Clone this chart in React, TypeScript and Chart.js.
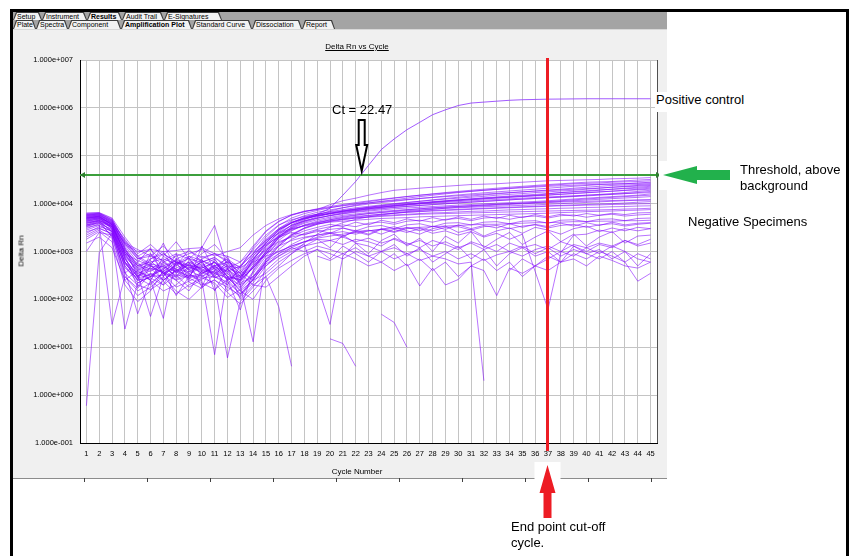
import React, { useEffect, useRef } from 'react';
import { Chart, registerables } from 'chart.js';

Chart.register(...registerables);

const FONT = '"Liberation Sans", Arial, Helvetica, sans-serif';

// ---------- data ----------
const cycles = [
  1, 2, 3, 4, 5, 6, 7, 8, 9, 10, 11, 12, 13, 14, 15, 16, 17, 18, 19, 20, 21, 22, 23,
  24, 25, 26, 27, 28, 29, 30, 31, 32, 33, 34, 35, 36, 37, 38, 39, 40, 41, 42, 43, 44, 45,
];
const yTickValues = [0.1, 1, 10, 100, 1000, 1e4, 1e5, 1e6, 1e7];
const yTickLabels = [
  '1.000e-001', '1.000e+000', '1.000e+001', '1.000e+002', '1.000e+003',
  '1.000e+004', '1.000e+005', '1.000e+006', '1.000e+007',
];
const thresholdValue = 4.0e4;
const ctValue = 22.47;
const cutoffCycle = 37;

const positiveControl = [
  5000, 5300, 3700, 900, 420, 550, 480, 380, 520,
  450, 600, 300, 260, 650, 1500, 2800, 4000, 5000,
  6000, 8000, 1.5e4, 2.9e4, 6.3e4, 1.35e5, 2.24e5, 3.5e5, 5.0e5,
  7.2e5, 9.1e5, 1.12e6, 1.26e6, 1.32e6, 1.38e6, 1.44e6, 1.48e6, 1.5e6,
  1.52e6, 1.53e6, 1.54e6, 1.55e6, 1.55e6, 1.55e6, 1.55e6, 1.55e6, 1.55e6,
];

const negU01 = [
  6200, 6400, 4800, 1500, 700, 800, 650, 900, 700,
  600, 750, 500, 450, 1200, 2600, 4200, 5800, 7000,
  7500, 9500, 1.15e4, 1.3e4, 1.5e4, 1.7e4, 1.9e4, 2.0e4, 2.1e4,
  2.2e4, 2.3e4, 2.4e4, 2.5e4, 2.55e4, 2.6e4, 2.7e4, 2.8e4, 2.9e4,
  3.0e4, 3.05e4, 3.1e4, 3.15e4, 3.2e4, 3.3e4, 3.35e4, 3.4e4, 3.5e4,
];
const negU02 = [
  5800, 6000, 4200, 1100, 500, 600, 700, 550, 800,
  650, 500, 600, 350, 900, 2000, 3500, 5000, 6200,
  7200, 8200, 9200, 1.0e4, 1.1e4, 1.2e4, 1.3e4, 1.4e4, 1.5e4,
  1.6e4, 1.7e4, 1.8e4, 1.9e4, 2.0e4, 2.1e4, 2.2e4, 2.3e4, 2.4e4,
  2.5e4, 2.6e4, 2.7e4, 2.8e4, 2.85e4, 2.9e4, 3.0e4, 3.1e4, 3.2e4,
];
const negU03 = [
  5000, 5500, 3800, 900, 350, 450, 380, 600, 420,
  500, 700, 300, 250, 700, 1600, 3000, 4400, 5600,
  6600, 7400, 8200, 9000, 9800, 1.05e4, 1.12e4, 1.2e4, 1.28e4,
  1.36e4, 1.44e4, 1.52e4, 1.6e4, 1.68e4, 1.76e4, 1.84e4, 1.92e4, 2.0e4,
  2.1e4, 2.2e4, 2.3e4, 2.4e4, 2.5e4, 2.55e4, 2.6e4, 2.7e4, 2.8e4,
];
const negU04 = [
  4500, 5000, 3200, 700, 300, 400, 500, 300, 650,
  400, 350, 450, 200, 500, 1300, 2600, 4000, 5200,
  6000, 6800, 7500, 8200, 8800, 9400, 1.0e4, 1.06e4, 1.12e4,
  1.18e4, 1.24e4, 1.3e4, 1.36e4, 1.42e4, 1.5e4, 1.56e4, 1.62e4, 1.7e4,
  1.76e4, 1.84e4, 1.9e4, 2.0e4, 2.1e4, 2.2e4, 2.3e4, 2.4e4, 2.5e4,
];
const negU05 = [
  6000, 6300, 4500, 1300, 600, 300, 420, 700, 500,
  800, 600, 380, 500, 1100, 2200, 3600, 4600, 5400,
  6000, 6600, 7200, 7800, 8400, 9000, 9500, 1.0e4, 1.05e4,
  1.1e4, 1.15e4, 1.2e4, 1.25e4, 1.3e4, 1.35e4, 1.4e4, 1.45e4, 1.5e4,
  1.6e4, 1.7e4, 1.75e4, 1.8e4, 1.9e4, 2.0e4, 2.05e4, 2.1e4, 2.2e4,
];
const negU06 = [
  3800, 4600, 3000, 600, 250, 350, 250, 400, 300,
  350, 450, 250, 60, 400, 1000, 2200, 3600, 4800,
  5600, 6300, 7000, 7600, 8200, 8700, 9200, 9700, 1.02e4,
  1.07e4, 1.12e4, 1.17e4, 1.22e4, 1.27e4, 1.32e4, 1.37e4, 1.42e4, 1.47e4,
  1.52e4, 1.58e4, 1.64e4, 1.7e4, 1.76e4, 1.82e4, 1.88e4, 1.94e4, 2.0e4,
];
const negU07 = [
  5500, 5700, 4000, 1800, 800, 550, 900, 600, 450,
  700, 900, 650, 400, 800, 1500, 2800, 3900, 4800,
  5500, 6100, 6600, 7100, 7600, 8000, 8400, 8800, 9200,
  9600, 1.0e4, 1.04e4, 1.08e4, 1.12e4, 1.16e4, 1.2e4, 1.24e4, 1.28e4,
  1.32e4, 1.36e4, 1.4e4, 1.45e4, 1.5e4, 1.56e4, 1.62e4, 1.7e4, 1.8e4,
];
const negU08 = [
  4800, 5300, 3500, 1000, 450, 650, 350, 500, 750,
  300, 400, 550, 300, 600, 1200, 2400, 3500, 4400,
  5000, 5600, 6100, 6600, 7000, 7400, 7800, 8100, 8400,
  8700, 9000, 9300, 9600, 9900, 1.02e4, 1.05e4, 1.08e4, 1.11e4,
  1.15e4, 1.2e4, 1.25e4, 1.3e4, 1.35e4, 1.4e4, 1.45e4, 1.5e4, 1.6e4,
];
const negU09 = [
  5200, 5400, 3600, 1200, 500, 380, 600, 420, 380,
  550, 320, 420, 250, 450, 900, 1900, 3000, 3900,
  4600, 5200, 5700, 6100, 6500, 6900, 7200, 7500, 7800,
  8100, 8400, 8700, 9000, 9300, 9600, 9900, 1.02e4, 1.05e4,
  1.08e4, 1.11e4, 1.15e4, 1.19e4, 1.23e4, 1.27e4, 1.31e4, 1.35e4, 1.4e4,
];
const negU10 = [
  4200, 4800, 3400, 800, 400, 500, 450, 650, 350,
  450, 600, 350, 180, 350, 800, 1700, 2700, 3600,
  4300, 4900, 5400, 5800, 6200, 6500, 6800, 7100, 7400,
  7700, 8000, 8200, 8400, 8600, 8800, 9000, 9200, 9400,
  9700, 1.0e4, 1.03e4, 1.06e4, 1.09e4, 1.12e4, 1.15e4, 1.18e4, 1.2e4,
];
const negU11 = [
  3300, 4100, 3300, 750, 280, 330, 420, 260, 380,
  480, 350, 280, 170, 380, 900, 2000, 3300, 4600,
  5800, 7000, 8200, 9300, 1.03e4, 1.12e4, 1.2e4, 1.3e4, 1.4e4,
  1.5e4, 1.6e4, 1.7e4, 1.8e4, 1.9e4, 2.0e4, 2.1e4, 2.2e4, 2.3e4,
  2.4e4, 2.5e4, 2.6e4, 2.65e4, 2.7e4, 2.8e4, 2.85e4, 2.9e4, 3.0e4,
];
const negU12 = [
  5700, 6100, 4400, 1600, 750, 500, 350, 450, 600,
  420, 380, 500, 280, 550, 1100, 2100, 3200, 4300,
  5300, 6200, 7000, 7700, 8400, 9100, 9800, 1.05e4, 1.12e4,
  1.2e4, 1.28e4, 1.36e4, 1.44e4, 1.52e4, 1.6e4, 1.68e4, 1.76e4, 1.84e4,
  1.92e4, 2.0e4, 2.1e4, 2.2e4, 2.3e4, 2.4e4, 2.45e4, 2.5e4, 2.6e4,
];
const negU13 = [
  4600, 5100, 3900, 1100, 550, 420, 650, 380, 280,
  330, 480, 380, 230, 480, 1000, 2000, 3100, 4100,
  4900, 5700, 6400, 7100, 7800, 8400, 9000, 9600, 1.02e4,
  1.08e4, 1.14e4, 1.2e4, 1.26e4, 1.32e4, 1.38e4, 1.44e4, 1.5e4, 1.56e4,
  1.62e4, 1.7e4, 1.78e4, 1.86e4, 1.94e4, 2.0e4, 2.1e4, 2.2e4, 2.3e4,
];
const negU14 = [
  5300, 5600, 4100, 1400, 700, 900, 500, 650, 420,
  600, 750, 450, 350, 700, 1400, 2500, 3500, 4300,
  5000, 5600, 6200, 6800, 7300, 7800, 8300, 8700, 9100,
  9500, 9900, 1.03e4, 1.07e4, 1.11e4, 1.15e4, 1.2e4, 1.24e4, 1.28e4,
  1.33e4, 1.38e4, 1.43e4, 1.5e4, 1.56e4, 1.62e4, 1.7e4, 1.8e4, 1.9e4,
];
const negU15 = [
  4900, 5200, 3300, 850, 380, 300, 320, 550, 330,
  280, 300, 230, 130, 260, 600, 1300, 2200, 3100,
  3900, 4600, 5200, 5700, 6200, 6600, 7000, 7400, 7800,
  8200, 8500, 8800, 9100, 9400, 9700, 1.0e4, 1.03e4, 1.06e4,
  1.1e4, 1.15e4, 1.2e4, 1.25e4, 1.3e4, 1.35e4, 1.4e4, 1.45e4, 1.5e4,
];
const negU16 = [
  6400, 6500, 5000, 2000, 900, 1400, 800, 1600, 700,
  1200, 900, 600, 480, 900, 1800, 3000, 4100, 5000,
  5700, 6300, 6900, 7500, 8000, 8500, 9000, 9500, 1.0e4,
  1.05e4, 1.1e4, 1.15e4, 1.2e4, 1.25e4, 1.3e4, 1.35e4, 1.4e4, 1.45e4,
  1.5e4, 1.56e4, 1.62e4, 1.68e4, 1.75e4, 1.82e4, 1.9e4, 2.0e4, 2.1e4,
];
const negU17 = [
  5900, 6200, 4600, 1700, 800, 1100, 600, 800, 1000,
  750, 900, 800, 600, 1300, 2700, 4300, 5700, 6800,
  7800, 8700, 9600, 1.05e4, 1.14e4, 1.23e4, 1.32e4, 1.41e4, 1.5e4,
  1.58e4, 1.66e4, 1.74e4, 1.82e4, 1.9e4, 1.98e4, 2.06e4, 2.14e4, 2.22e4,
  2.3e4, 2.36e4, 2.42e4, 2.48e4, 2.54e4, 2.58e4, 2.62e4, 2.66e4, 2.7e4,
];
const negU18 = [
  4300, 4900, 3700, 1500, 1100, 800, 1300, 700, 900,
  1100, 800, 1000, 1200, 2200, 3500, 4800, 5900, 6800,
  7600, 8300, 9000, 9700, 1.04e4, 1.1e4, 1.16e4, 1.22e4, 1.28e4,
  1.34e4, 1.4e4, 1.46e4, 1.52e4, 1.58e4, 1.64e4, 1.7e4, 1.76e4, 1.82e4,
  1.88e4, 1.94e4, 2.0e4, 2.06e4, 2.12e4, 2.2e4, 2.26e4, 2.32e4, 2.4e4,
];
const negU19 = [
  3600, 4400, 3500, 900, 650, 500, 350, 300, 480,
  380, 280, 420, 280, 800, 1700, 2900, 4000, 4900,
  5600, 6200, 6800, 7300, 7800, 8300, 8800, 9300, 9800,
  1.02e4, 1.06e4, 1.1e4, 1.14e4, 1.18e4, 1.22e4, 1.26e4, 1.3e4, 1.34e4,
  1.38e4, 1.42e4, 1.46e4, 1.5e4, 1.54e4, 1.58e4, 1.62e4, 1.66e4, 1.7e4,
];
const negM01 = [
  3500, 4200, 2600, 500, 220, 300, 550, 280, 450,
  600, 280, 350, 220, 300, 700, 1400, 2300, 3100,
  3700, 4200, 4600, 5000, 5300, 5600, 5800, 6000, 6200,
  6400, 6500, 6700, 6900, 7000, 7200, 7400, 7500, 7700,
  7800, 8000, 8100, 8300, 8400, 8600, 8700, 8900, 9000,
];
const negM02 = [
  5600, 5900, 3900, 1400, 1000, 1100, 1000, 1050, 1150,
  1200, 3500, 450, 600, 1000, 1700, 2400, 3000, 3400,
  3800, 4100, 4300, 4500, 4700, 4900, 5000, 5100, 5300,
  5400, 5500, 5600, 5700, 5800, 5900, 6000, 6100, 6200,
  6300, 6500, 6600, 6800, 6900, 7000, 7200, 7300, 7500,
];
const negM03 = [
  3000, 3800, 2900, 450, 280, 200, 380, 250, 320,
  250, 7, 300, 150, 250, 600, 1100, 1800, 2400,
  2900, 3300, 3600, 3300, 3900, 4100, 3700, 4300, 4500,
  4100, 4700, 4900, 4400, 5000, 5200, 4700, 5300, 5500,
  5000, 5600, 5800, 5200, 5700, 6000, 5500, 5800, 6000,
];
const negM04 = [
  4400, 4700, 3100, 700, 330, 44, 300, 550, 700,
  380, 520, 260, 320, 650, 1100, 1600, 2000, 2300,
  2600, 2900, 3100, 2700, 3300, 3500, 3000, 3600, 3800,
  3300, 3900, 4000, 3600, 4100, 4200, 3800, 4300, 4400,
  3900, 4500, 4600, 4200, 4700, 4800, 4400, 4900, 5000,
];
const negM05 = [
  4000, 4400, 3300, 1000, 500, 700, 900, 600, 500,
  350, 500, 700, 450, 700, 1300, 2100, 2900, 3500,
  4000, 4400, 4700, 5000, 5200, 5400, 5600, 5800, 6000,
  6100, 6200, 6300, 6400, 6500, 6600, 6700, 6800, 6900,
  7000, 7100, 7200, 7300, 7400, 7500, 7700, 7800, 8000,
];
const negM06 = [
  2800, 3500, 2600, 600, 250, 280, 200, 330, 280,
  200, 250, 180, 120, 280, 650, 1300, 2200, 3000,
  3700, 4300, 4800, 5200, 5600, 6000, 6300, 6600, 6900,
  7200, 7400, 7600, 7800, 8000, 8200, 8400, 8600, 8800,
  9000, 9200, 9400, 9600, 9800, 1.0e4, 1.03e4, 1.07e4, 1.1e4,
];
const negM07 = [
  5100, 5500, 3600, 1000, 450, 250, 600, 350, 800,
  500, 300, 650, 350, 200, 300, 500, 900, 1500,
  2300, 3200, 4000, 4700, 5300, 5800, 6300, 6800, 7200,
  7600, 8000, 8400, 8700, 9000, 9300, 9600, 9900, 1.02e4,
  1.05e4, 1.08e4, 1.1e4, 1.12e4, 1.14e4, 1.16e4, 1.18e4, 1.19e4, 1.2e4,
];
const negM08 = [
  4700, 5000, 3000, 600, 300, 550, 250, 420, 300,
  650, 450, 150, 250, 450, 1000, 1900, 2800, 3500,
  4100, 4600, 5000, 5400, 5700, 6000, 6300, 6600, 6800,
  7000, 7200, 7400, 7600, 7800, 8000, 8200, 8400, 8600,
  8800, 9000, 9100, 9300, 9400, 9600, 9700, 9900, 1.0e4,
];
const negM09 = [
  5400, 5800, 4300, 1200, 300, 700, 1000, 350, 550,
  900, 1400, 700, 300, 450, 900, 1500, 2100, 2700,
  3200, 3700, 3300, 4100, 3600, 4500, 4000, 4800, 4300,
  5100, 4500, 5300, 4700, 5500, 4900, 5700, 5100, 5900,
  5300, 6000, 5500, 6200, 5700, 6300, 5900, 6400, 6500,
];
const negM10 = [
  3400, 3900, 2100, 300, 170, 350, 200, 600, 230,
  170, 350, 500, 300, 600, 800, 1000, 1300, 1600,
  1900, 2100, 2300, 2500, 2700, 2900, 3000, 3100, 3200,
  3300, 3400, 3500, 3600, 3700, 3700, 3800, 3900, 4000,
  4000, 4100, 4200, 4200, 4300, 4300, 4400, 4400, 4500,
];
const negL01 = [
  1000, 2500, 2200, 400, 50, 250, 150, 200, 350,
  220, 160, 260, 130, 220, 500, 900, 1400, 1900,
  2200, 2500, 2100, 2600, 2800, 2300, 2900, 2500, 3000,
  2400, 2700, 2200, 2600, 2000, 2400, 1800, 2300, 380,
  62, 950, 2200, 2300, 2800, 2500, 3000, 2700, 3000,
];
const negL02 = [
  3200, 3600, 30, 300, 150, 220, 350, 180, 240,
  320, 200, 6, 90, 180, 400, 700, 1000, 1300,
  1500, 1700, 1400, 1800, 1600, 1300, 1900, 1500, 1200,
  1700, 1400, 1100, 1600, 1300, 1000, 1500, 1200, 1400,
  1100, 1600, 1300, 1000, 1400, 1200, 1700, 1300, 1500,
];
const negL03 = [
  0.6, 950, 2400, 350, 200, 160, 240, 130, 200,
  280, 220, 110, 160, 300, 600, 900, 1200, 1000,
  1300, 1100, 900, 1200, 800, 1000, 700, 900, 650,
  800, 700, 550, 600, 2, null, 400, 700, 500,
  800, 600, 900, 700, 1000, 800, 600, 900, 700,
];
const negL04 = [
  2600, 3100, 2300, 550, 300, 450, 250, 400, 550,
  350, 500, 280, 200, 13, 700, 1000, 1300, 1600,
  1800, 1700, 2000, 1600, 1900, 1500, 1800, 1400, 1700,
  1300, 1600, 1200, 1500, 1100, 1400, 1000, 1300, 900,
  1200, 800, 1100, 900, 700, 1000, 600, 240, 350,
];
const negL05 = [
  1500, 2000, 1200, 250, 120, 180, 300, 150, 100,
  180, 260, 140, 80, 150, 300, 70, 4, null,
  800, 650, 900, 700, 500, 600, 400, 550, 190,
  450, 200, 260, 500, 400, 120, 450, 350, 500,
  400, 600, 700, 500, 800, 650, 500, 450, 600,
];
const negL06 = [
  2000, 2800, 1900, 24, 220, 300, 450, 320, 180,
  260, 380, 200, 110, 260, 550, 800, 1100, 1400,
  200, 30, 800, 1500, 1300, 1000, 1200, 900, 1100,
  800, 1000, 700, 900, 650, 850, 1000, 800, 1100,
  1300, 1000, 1400, 1200, 1500, 1300, 1700, 1400, 1800,
];
const negL07 = [
  3600, 4000, 2800, 600, 350, 250, 40, 700, 400,
  300, 450, 600, 250, 500, 900, 1300, 1700, 2000,
  2200, 2400, 2600, 2300, 2700, 2900, 2500, 3000, 3100,
  2700, 3200, 3300, 2800, 3300, 3500, 3000, 3400, 3600,
  3100, 3500, 3700, 3200, 3600, 3800, 3400, 3700, 3900,
];
const negL08 = [
  4100, 4500, 2500, 350, 600, 1200, 300, 900, 250,
  1300, 400, 800, 200, 300, 500, 800, 1200, 1600,
  2000, 2400, 2000, 2800, 2300, 3000, 2600, 3200, 2700,
  3400, 2900, 3600, 3000, 3500, 3100, 3800, 3200, 3700,
  3300, 3900, 3400, 4000, 3500, 4100, 3600, 3900, 4000,
];
const negL09 = [
  2400, 3300, 2700, 800, 180, 500, 1500, 400, 600,
  180, 700, 250, 400, 250, 350, 600, 900, 1300,
  1800, 1200, 2200, 1500, 900, 1700, 2300, 1300, 1900,
  1000, 2100, 1500, 2600, 1200, 1800, 2500, 1400, 2000,
  2700, 1600, 2300, 1300, 2000, 2600, 1500, 2100, 2200,
];
const negL10 = [
  1800, 2600, 1600, 200, 90, 150, 400, 120, 300,
  700, 150, 450, 100, 200, 180, 300, 500, 800,
  1100, 700, 1300, 900, 600, 1000, 1400, 800, 1200,
  600, 900, 1300, 700, 1100, 500, 900, 1200, 800,
  1000, 600, 1300, 900, 1100, 700, 1000, 500, 900,
];
const negL11 = [
  3900, 4300, 2000, 250, 400, 250, 800, 500, 1100,
  600, 300, 200, 500, 900, 1400, 2000, 2500, 2200,
  2800, 2400, 3100, 2600, 2200, 2900, 3300, 2700, 2300,
  3000, 3400, 2500, 2900, 2100, 2700, 3100, 2400, 3200,
  2800, 2300, 3000, 3400, 2600, 3100, 2700, 3200, 3000,
];
const negL12 = [
  2200, 3000, 2400, 500, 250, 900, 350, 250, 150,
  400, 600, 300, 150, 100, 250, 450, 650, 900,
  1100, 900, 700, 1000, 800, 600, 900, 500, 700,
  400, 600, 300, 500, 700, 400, 600, 300, 500,
  700, 1000, 800, 1200, 900, 1300, 1000, 700, 600,
];
const gapA = [
  null, null, null, null, null, null, null, null, null,
  null, null, null, null, null, null, null, null, null,
  null, 15, 12, 4, null, null, null, null, null,
  null, null, null, null, null, null, null, null, null,
  null, null, null, null, null, null, null, null, null,
];
const gapB = [
  null, null, null, null, null, null, null, null, null,
  null, null, null, null, null, null, null, null, null,
  null, null, null, null, null, 49, 33, 10, null,
  null, null, null, null, null, null, null, null, null,
  null, null, null, null, null, null, null, null, null,
];

const negativeSpecimens = [
  negU01, negU02, negU03, negU04, negU05, negU06, negU07, negU08, negU09, negU10,
  negU11, negU12, negU13, negU14, negU15, negU16, negU17, negU18, negU19,
  negM01, negM02, negM03, negM04, negM05, negM06, negM07, negM08, negM09, negM10,
  negL01, negL02, negL03, negL04, negL05, negL06, negL07, negL08, negL09, negL10,
  negL11, negL12,
  gapA, gapB,
];

// ---------- screenshot chrome ----------
const row1Tabs = ['Setup', 'Instrument', 'Results', 'Audit Trail', 'E-Signatures'];
const row2Tabs = ['Plate', 'Spectra', 'Component', 'Amplification Plot', 'Standard Curve', 'Dissociation', 'Report'];
const row1Edges = [13, 42, 87, 122, 164, 222];
const row2Edges = [13, 36, 68, 121, 192, 252, 302, 335];
const activeTabs = ['Results', 'Amplification Plot'];
const bottomTicks = [84, 147, 210, 273, 336, 399, 462, 525, 588, 651];

const RED = '#ed1c24';
const GREEN_BIG = '#22b14c';
const GREEN_LINE = '#3c9f3c';

const decorPlugin = {
  id: 'decor',
  beforeDraw(chart: any) {
    const { ctx, chartArea: a } = chart;
    ctx.save();
    ctx.fillStyle = '#ffffff';
    ctx.fillRect(a.left, a.top, a.right - a.left, a.bottom - a.top);
    ctx.restore();
  },
  afterDatasetsDraw(chart: any) {
    const { ctx, chartArea: a, scales } = chart;
    ctx.save();
    ctx.strokeStyle = '#505050';
    ctx.lineWidth = 1;
    ctx.beginPath();
    ctx.moveTo(a.right + 0.5, a.top);
    ctx.lineTo(a.right + 0.5, a.bottom);
    ctx.stroke();

    const ty = Math.round(scales.y.getPixelForValue(thresholdValue));
    ctx.strokeStyle = GREEN_LINE;
    ctx.lineWidth = 2;
    ctx.beginPath();
    ctx.moveTo(a.left, ty);
    ctx.lineTo(a.right, ty);
    ctx.stroke();
    ctx.fillStyle = '#2f7f2f';
    ctx.beginPath();
    ctx.moveTo(a.left, ty);
    ctx.lineTo(a.left + 5, ty - 3);
    ctx.lineTo(a.left + 5, ty + 3);
    ctx.closePath();
    ctx.fill();
    ctx.beginPath();
    ctx.moveTo(a.right + 4, ty);
    ctx.lineTo(a.right - 1, ty - 3);
    ctx.lineTo(a.right - 1, ty + 3);
    ctx.closePath();
    ctx.fill();

    const cx = scales.x.getPixelForValue(cutoffCycle - 1);
    ctx.fillStyle = RED;
    ctx.fillRect(Math.round(cx) - 2, a.top - 2, 3, a.bottom - a.top + 10);
    ctx.restore();
  },
  afterDraw(chart: any) {
    const { ctx, chartArea: a, scales } = chart;
    const ty = Math.round(scales.y.getPixelForValue(thresholdValue));
    const cx = Math.round(scales.x.getPixelForValue(cutoffCycle - 1)) - 0.5;
    const kx = scales.x.getPixelForValue(ctValue - 1);
    ctx.save();

    ctx.fillStyle = '#ffffff';
    ctx.fillRect(a.right + 2, ty - 14, 12, 29);
    const gx = a.right + 6;
    ctx.fillStyle = GREEN_BIG;
    ctx.beginPath();
    ctx.moveTo(gx, ty);
    ctx.lineTo(gx + 34, ty - 9);
    ctx.lineTo(gx + 34, ty - 5);
    ctx.lineTo(gx + 67, ty - 5);
    ctx.lineTo(gx + 67, ty + 5);
    ctx.lineTo(gx + 34, ty + 5);
    ctx.lineTo(gx + 34, ty + 9);
    ctx.closePath();
    ctx.fill();

    ctx.fillStyle = '#ffffff';
    ctx.fillRect(cx - 13, 462, 26, 17);
    const ry = 465;
    ctx.fillStyle = RED;
    ctx.beginPath();
    ctx.moveTo(cx, ry);
    ctx.lineTo(cx + 8, ry + 28);
    ctx.lineTo(cx + 4, ry + 28);
    ctx.lineTo(cx + 4, ry + 53);
    ctx.lineTo(cx - 4, ry + 53);
    ctx.lineTo(cx - 4, ry + 28);
    ctx.lineTo(cx - 8, ry + 28);
    ctx.closePath();
    ctx.fill();

    const top = 120;
    const tip = ty - 4;
    ctx.fillStyle = '#ffffff';
    ctx.strokeStyle = '#000000';
    ctx.lineWidth = 2;
    ctx.lineJoin = 'miter';
    ctx.beginPath();
    ctx.moveTo(kx - 3, top);
    ctx.lineTo(kx + 3, top);
    ctx.lineTo(kx + 3, top + 25);
    ctx.lineTo(kx + 5.5, top + 25);
    ctx.lineTo(kx, tip);
    ctx.lineTo(kx - 5.5, top + 25);
    ctx.lineTo(kx - 3, top + 25);
    ctx.closePath();
    ctx.fill();
    ctx.stroke();
    ctx.restore();
  },
};

function TabRow(props: { names: string[]; edges: number[]; top: number; height: number }) {
  const { names, edges, top, height } = props;
  const clip = 'polygon(0 100%, 3px 0, calc(100% - 3px) 0, 100% 100%)';
  return (
    <>
      {names.map((n, i) => {
        const left = edges[i];
        const width = edges[i + 1] - edges[i];
        const active = activeTabs.includes(n);
        return (
          <div
            key={n}
            style={{ position: 'absolute', left, top, width, height, background: '#3c3c3c', clipPath: clip }}
          >
            <div
              style={{
                position: 'absolute', left: 1, right: 1, top: 1, bottom: 0,
                background: '#f2f2f2', clipPath: clip,
              }}
            />
            <div
              style={{
                position: 'absolute', left: 4, top: 0, height, lineHeight: height + 1 + 'px',
                fontSize: 7, fontWeight: active ? 'bold' : 'normal', color: '#000', whiteSpace: 'nowrap',
              }}
            >
              {n}
            </div>
          </div>
        );
      })}
    </>
  );
}

export default function App() {
  const ref = useRef<HTMLCanvasElement | null>(null);

  useEffect(() => {
    const canvas = ref.current;
    if (!canvas) return;
    const lineColor = 'rgba(128, 0, 255, 0.55)';
    const datasets: any[] = negativeSpecimens.map((d, i) => ({
      label: 'Negative ' + (i + 1),
      data: d,
      borderColor: lineColor,
      borderWidth: 1,
      pointRadius: 0,
      fill: false,
      spanGaps: false,
      tension: 0,
    }));
    datasets.push({
      label: 'Positive control',
      data: positiveControl,
      borderColor: 'rgba(140, 50, 255, 0.8)',
      borderWidth: 1,
      pointRadius: 0,
      fill: false,
      tension: 0,
    });

    const tickFont = { family: FONT, size: 7.5 };
    const chart = new Chart(canvas, {
      type: 'line',
      data: { labels: cycles.map(String), datasets },
      options: {
        responsive: false,
        animation: false,
        devicePixelRatio: 1,
        events: [],
        layout: { padding: { left: 0, top: 60, right: 196, bottom: 93 } },
        plugins: {
          legend: { display: false },
          tooltip: { enabled: false },
          title: { display: false },
        },
        elements: { point: { radius: 0 }, line: { tension: 0 } },
        scales: {
          x: {
            type: 'category',
            offset: true,
            grid: { offset: false, color: '#c4c4c4', lineWidth: 1, drawTicks: false },
            border: { color: '#000000', width: 1 },
            ticks: {
              autoSkip: false, maxRotation: 0, minRotation: 0,
              font: tickFont, color: '#000000', padding: 6,
            },
            afterFit: (s: any) => { s.height = 20; },
          },
          y: {
            type: 'logarithmic',
            min: 0.1,
            max: 1e7,
            afterBuildTicks: (s: any) => {
              s.ticks = yTickValues.map((v) => ({ value: v, major: true }));
            },
            afterFit: (s: any) => { s.width = 80; },
            grid: { color: '#c4c4c4', lineWidth: 1, drawTicks: false },
            border: { color: '#000000', width: 1 },
            ticks: {
              font: tickFont,
              color: '#000000',
              padding: 7,
              callback: (v: any) => {
                const idx = yTickValues.findIndex((t) => Math.abs(Math.log10(t) - Math.log10(Number(v))) < 1e-6);
                return idx >= 0 ? yTickLabels[idx] : '';
              },
            },
          },
        },
      },
      plugins: [decorPlugin],
    });
    return () => chart.destroy();
  }, []);

  const annot: React.CSSProperties = {
    position: 'absolute', fontFamily: FONT, fontSize: 13, color: '#000', whiteSpace: 'nowrap', lineHeight: '16px',
  };
  const small: React.CSSProperties = {
    position: 'absolute', fontFamily: FONT, fontSize: 8, color: '#000', whiteSpace: 'nowrap',
  };

  return (
    <div
      style={{
        position: 'fixed', left: 0, top: 0, width: 853, height: 556, background: '#ffffff',
        overflow: 'hidden', fontFamily: FONT,
      }}
    >
      <div
        style={{
          position: 'absolute', left: 10, top: 9, width: 839, height: 560,
          borderLeft: '3px solid #000', borderTop: '3px solid #000', borderRight: '3px solid #000',
          boxSizing: 'border-box',
        }}
      />
      <div style={{ position: 'absolute', left: 13, top: 12, width: 654, height: 466, background: '#f0f0f0' }} />
      <div style={{ position: 'absolute', left: 13, top: 12, width: 654, height: 17, background: '#a4a4a4' }} />
      <TabRow names={row1Tabs} edges={row1Edges} top={12} height={8} />
      <TabRow names={row2Tabs} edges={row2Edges} top={20} height={9} />
      <div style={{ position: 'absolute', left: 13, top: 29, width: 654, height: 1, background: '#d8d8d8' }} />
      <div style={{ position: 'absolute', left: 13, top: 478, width: 654, height: 1, background: '#8c8c8c' }} />
      {bottomTicks.map((x) => (
        <div key={x} style={{ position: 'absolute', left: x, top: 478, width: 1, height: 4, background: '#404040' }} />
      ))}

      <canvas
        ref={ref}
        width={853}
        height={556}
        style={{ position: 'absolute', left: 0, top: 0, width: 853, height: 556 }}
      />

      <div style={{ ...small, left: 257, top: 42, width: 200, textAlign: 'center', textDecoration: 'underline' }}>
        Delta Rn vs Cycle
      </div>
      <div style={{ ...small, left: 257, top: 467, width: 200, textAlign: 'center' }}>Cycle Number</div>
      <div
        style={{
          ...small, left: 21, top: 251, transform: 'translate(-50%, -50%) rotate(-90deg)',
        }}
      >
        Delta Rn
      </div>

      <div style={{ ...annot, left: 332, top: 102 }}>Ct = 22.47</div>
      <div style={{ ...annot, left: 655, top: 92, height: 20, lineHeight: '15px', background: '#ffffff', paddingLeft: 1, paddingRight: 4 }}>
        Positive control
      </div>
      <div style={{ ...annot, left: 740, top: 162 }}>
        Threshold, above
        <br />
        background
      </div>
      <div style={{ ...annot, left: 688, top: 214 }}>Negative Specimens</div>
      <div style={{ ...annot, left: 511, top: 519 }}>
        End point cut-off
        <br />
        cycle.
      </div>
    </div>
  );
}
